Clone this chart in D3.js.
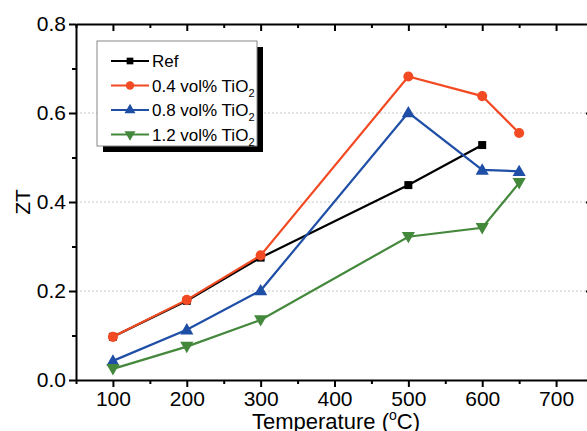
<!DOCTYPE html>
<html>
<head>
<meta charset="utf-8">
<script src="https://cdn.jsdelivr.net/npm/d3@7"></script>
<style>
  body { margin: 0; background: #fff; }
  svg text { font-family: Arial, "Liberation Sans", Helvetica, sans-serif; }
</style>
</head>
<body>
<svg id="chart" width="587" height="431"></svg>
<script>
// data
const temps = [100, 200, 300, 500, 600, 650];
const refZT = [0.097, 0.178, 0.275, 0.438, 0.528];
const ti04ZT = [0.097, 0.180, 0.280, 0.682, 0.638, 0.555];
const ti08ZT = [0.043, 0.113, 0.201, 0.601, 0.472, 0.469];
const ti12ZT = [0.025, 0.075, 0.135, 0.322, 0.342, 0.443];
const xTicks = [100, 200, 300, 400, 500, 600, 700];
const yTicks = [0.0, 0.2, 0.4, 0.6, 0.8];
const seriesNames = ["Ref", "0.4 vol% TiO", "0.8 vol% TiO", "1.2 vol% TiO"];

const margin = {left: 76, top: 24};
const width = 517, height = 356;
const font = "Arial, 'Liberation Sans', sans-serif";

const x = d3.scaleLinear().domain([50, 750]).range([0, width]);
const y = d3.scaleLinear().domain([0, 0.8]).range([height, 0]);

const series = [
    {name: seriesNames[0], values: refZT, color: "#000000", symbol: d3.symbolSquare, size: 64, rot: 0, sub: false},
    {name: seriesNames[1], values: ti04ZT, color: "#f24a22", symbol: d3.symbolCircle, size: 80, rot: 0, sub: true},
    {name: seriesNames[2], values: ti08ZT, color: "#1f4ea6", symbol: d3.symbolTriangle, size: 75, rot: 0, sub: true},
    {name: seriesNames[3], values: ti12ZT, color: "#44883c", symbol: d3.symbolTriangle, size: 75, rot: 180, sub: true}
];

const svg = d3.select("#chart");
const g = svg.append("g").attr("transform", `translate(${margin.left},${margin.top})`);

// dotted grid
g.append("g")
    .selectAll("line")
    .data([0.2, 0.4, 0.6])
    .enter().append("line")
    .attr("x1", 0).attr("x2", width)
    .attr("y1", d => y(d)).attr("y2", d => y(d))
    .attr("stroke", "#c8c8c8")
    .attr("stroke-width", 1)
    .attr("stroke-dasharray", "2,2");

const minorX = d3.range(50, 751, 100);
const minorY = [0.1, 0.3, 0.5, 0.7];

function styleAxis(sel) {
    sel.attr("font-family", font);
    sel.select(".domain").attr("stroke-width", 2).attr("stroke", "#000");
    sel.selectAll(".tick line").attr("stroke-width", 2);
    sel.selectAll(".tick text").style("font-size", "21px").attr("fill", "#000");
}

// bottom axis
g.append("g").attr("transform", `translate(0,${height})`)
    .call(d3.axisBottom(x).tickValues(xTicks).tickSize(7).tickSizeOuter(0).tickPadding(4))
    .call(styleAxis);
g.append("g").attr("transform", `translate(0,${height})`)
    .call(d3.axisBottom(x).tickValues(minorX).tickSize(4).tickFormat(""))
    .call(s => s.select(".domain").remove())
    .call(s => s.selectAll("line").attr("stroke-width", 2));

// top axis, ticks inward
g.append("g")
    .call(d3.axisBottom(x).tickValues(xTicks).tickSize(7).tickSizeOuter(0).tickFormat(""))
    .call(styleAxis);
g.append("g")
    .call(d3.axisBottom(x).tickValues(minorX).tickSize(4).tickFormat(""))
    .call(s => s.select(".domain").remove())
    .call(s => s.selectAll("line").attr("stroke-width", 2));

// left axis
g.append("g")
    .call(d3.axisLeft(y).tickValues(yTicks).tickFormat(d3.format(".1f")).tickSize(7).tickSizeOuter(0).tickPadding(3))
    .call(styleAxis);
g.append("g")
    .call(d3.axisLeft(y).tickValues(minorY).tickSize(4).tickFormat(""))
    .call(s => s.select(".domain").remove())
    .call(s => s.selectAll("line").attr("stroke-width", 2));

// right axis, ticks inward
g.append("g").attr("transform", `translate(${width},0)`)
    .call(d3.axisRight(y).tickValues([0.2, 0.4, 0.6]).tickSize(-7).tickSizeOuter(0).tickFormat(""))
    .call(styleAxis);
g.append("g").attr("transform", `translate(${width},0)`)
    .call(d3.axisRight(y).tickValues(minorY).tickSize(-4).tickFormat(""))
    .call(s => s.select(".domain").remove())
    .call(s => s.selectAll("line").attr("stroke-width", 2).attr("stroke", "#eee"));

// lines + markers
const line = d3.line()
    .x((d, i) => x(temps[i]))
    .y(d => y(d));

series.forEach(s => {
    g.append("path")
        .datum(s.values)
        .attr("fill", "none")
        .attr("stroke", s.color)
        .attr("stroke-width", 2.2)
        .attr("d", line);
    g.append("g")
        .selectAll("path")
        .data(s.values)
        .enter().append("path")
        .attr("d", d3.symbol().type(s.symbol).size(s.size))
        .attr("transform", (d, i) => `translate(${x(temps[i])},${y(d) + (s.rot ? -1 : (s.symbol === d3.symbolTriangle ? 1 : 0))}) rotate(${s.rot})`)
        .attr("fill", s.color);
});

// axis titles
const xt = svg.append("text")
    .attr("x", 336)
    .attr("y", 429)
    .attr("text-anchor", "middle")
    .style("font-size", "22px")
    .text("Temperature (");
xt.append("tspan").attr("dy", -9).style("font-size", "14px").text("o");
xt.append("tspan").attr("dy", 9).text("C)");

svg.append("text")
    .attr("transform", `translate(30,${margin.top + y(0.4)}) rotate(-90)`)
    .attr("text-anchor", "middle")
    .style("font-size", "21px")
    .text("ZT");

// legend
const lg = svg.append("g").attr("transform", "translate(97,41)");
lg.append("rect").attr("x", 6).attr("y", 6).attr("width", 160).attr("height", 105).attr("fill", "#000");
lg.append("rect").attr("x", 0).attr("y", 0).attr("width", 160).attr("height", 105)
    .attr("fill", "#fff").attr("stroke", "#888").attr("stroke-width", 1);

const rows = lg.selectAll("g.row")
    .data(series)
    .enter().append("g")
    .attr("class", "row")
    .attr("transform", (d, i) => `translate(0,${20 + i * 24.5})`);
rows.append("line")
    .attr("x1", 14).attr("x2", 52)
    .attr("stroke", d => d.color).attr("stroke-width", 2.2);
rows.append("path")
    .attr("d", d => d3.symbol().type(d.symbol).size(d.size * 0.7)())
    .attr("transform", d => `translate(33,0) rotate(${d.rot})`)
    .attr("fill", d => d.color);
const lt = rows.append("text")
    .attr("x", 55).attr("y", 6)
    .style("font-size", "17px")
    .text(d => d.name);
lt.filter(d => d.sub).append("tspan")
    .attr("dy", 5).style("font-size", "11px").text("2");
</script>
</body>
</html>
